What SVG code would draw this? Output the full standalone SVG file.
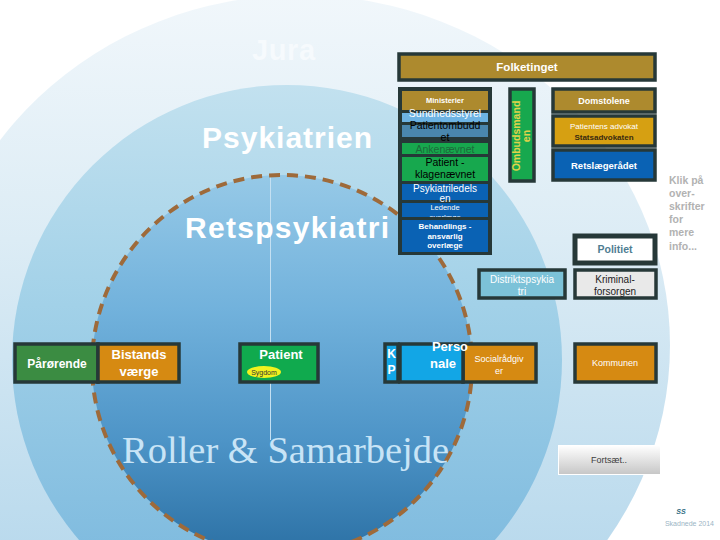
<svg xmlns="http://www.w3.org/2000/svg" width="720" height="540" viewBox="0 0 720 540">
<defs>
<linearGradient id="gOuter" x1="0" y1="0" x2="0" y2="1">
<stop offset="0" stop-color="#f1f7fb"/><stop offset="0.35" stop-color="#dcecf5"/><stop offset="1" stop-color="#a9d1e9"/>
</linearGradient>
<linearGradient id="gMid" x1="0" y1="0" x2="0" y2="1">
<stop offset="0" stop-color="#c2e1ef"/><stop offset="0.4" stop-color="#a2d1e8"/><stop offset="1" stop-color="#74b4dc"/>
</linearGradient>
<linearGradient id="gIn" x1="0" y1="0" x2="0" y2="1">
<stop offset="0" stop-color="#96c9e7"/><stop offset="0.35" stop-color="#72b2dc"/><stop offset="0.7" stop-color="#4d94c7"/><stop offset="1" stop-color="#2b70a4"/>
</linearGradient>
<linearGradient id="gBtn" x1="0" y1="0" x2="0" y2="1">
<stop offset="0" stop-color="#ffffff"/><stop offset="1" stop-color="#c6c6c6"/>
</linearGradient>
<clipPath id="clipLed"><rect x="402" y="203" width="86" height="14"/></clipPath>
</defs>
<style>
.box{stroke:#263838;stroke-width:3.5}
.t{font-family:"Liberation Sans",Arial,sans-serif;text-anchor:middle}
.b{font-weight:bold}
.w{fill:#ffffff}
.gold{fill:#ad8a2e}
.org{fill:#d68a12}
.blu{fill:#0a62b4}
.grn{fill:#17a84e}
.big{font-family:"Liberation Sans",Arial,sans-serif;font-weight:bold;fill:#ffffff}
</style>
<rect width="720" height="540" fill="#ffffff"/>
<g id="background">
<ellipse cx="300" cy="345" rx="370" ry="350" fill="url(#gOuter)"/>
<circle cx="287" cy="360" r="275" fill="url(#gMid)"/>
<circle cx="282" cy="365" r="190" fill="url(#gIn)"/>
<line x1="270.5" y1="176" x2="270.5" y2="440" stroke="#c4e0f2" stroke-width="1"/>
<circle cx="282" cy="365" r="190" fill="none" stroke="#9e6a3a" stroke-width="4" stroke-dasharray="11 7"/>
<text x="252" y="60" class="big" font-size="29" letter-spacing="0.6" style="fill:#f6fafd">Jura</text>
<text x="202" y="148" class="big" font-size="30" letter-spacing="1">Psykiatrien</text>
<text x="185" y="238" class="big" font-size="30" letter-spacing="1.3">Retspsykiatri</text>
<text x="122" y="463" font-family="'Liberation Serif','Times New Roman',serif" font-size="38.5" fill="#c8e4f6">Roller &amp; Samarbejde</text>
</g>
<g id="connectors"/>
<g id="folketinget">
<rect x="399" y="54" width="256" height="26" class="box gold"/>
<text x="527" y="71" class="t b w" font-size="11.5">Folketinget</text>
</g>
<g id="ministerier-frame"><rect x="398" y="87" width="94" height="168" fill="#263838"/></g>
<g id="ministerier">
<rect x="402" y="91" width="86" height="19" class="gold"/>
<text x="445" y="103" class="t b w" font-size="7.5">Ministerier</text>
</g>
<g id="sundhedsstyrelsen">
<rect x="402" y="113" width="86" height="9" fill="#6db3e3"/>
<text x="445" y="117" class="t w" font-size="10.5">Sundhedsstyrel</text>
</g>
<g id="patientombuddet">
<rect x="402" y="125" width="86" height="12" fill="#4a86ad"/>
<text x="445" y="129" class="t" font-size="10.5" fill="#000">Patientombudd</text>
<text x="445" y="141" class="t" font-size="10.5" fill="#000">et</text>
</g>
<g id="ankenaevnet">
<rect x="402" y="143" width="86" height="11" class="grn"/>
<text x="445" y="152.5" class="t" font-size="10.5" fill="#1d6a3a">Ankenævnet</text>
</g>
<g id="klagenaevnet">
<rect x="402" y="157" width="86" height="24" class="grn"/>
<text x="445" y="166" class="t" font-size="10.5" fill="#000">Patient -</text>
<text x="445" y="177.5" class="t" font-size="10.5" fill="#000">klagenævnet</text>
</g>
<g id="ledende-overlaege">
<rect x="402" y="203" width="86" height="14" class="blu"/>
<g clip-path="url(#clipLed)">
<text x="445" y="210" class="t w" font-size="7.5">Ledende</text>
<text x="445" y="219.5" class="t w" font-size="7.5">overlæge</text>
</g>
</g>
<g id="psykiatriledelsen">
<rect x="402" y="184" width="86" height="16" class="blu"/>
<text x="445" y="192" class="t w" font-size="10">Psykiatriledels</text>
<text x="445" y="202" class="t w" font-size="10">en</text>
</g>
<g id="behandlingsansvarlig">
<rect x="402" y="220" width="86" height="32" class="blu"/>
<text x="445" y="229" class="t b w" font-size="8">Behandlings -</text>
<text x="445" y="238.5" class="t b w" font-size="8">ansvarlig</text>
<text x="445" y="248" class="t b w" font-size="8">overlæge</text>
</g>
<g id="ombudsmanden">
<rect x="510" y="89" width="24" height="92" class="box grn"/>
<text transform="translate(519.5 136) rotate(-90)" x="0" y="0" class="t b" font-size="10.5" fill="#e0d24a">Ombudsmand</text>
<text transform="translate(529.5 136) rotate(-90)" x="0" y="0" class="t b" font-size="10.5" fill="#e0d24a">en</text>
</g>
<g id="domstolene">
<rect x="553" y="89" width="102" height="23" class="box gold"/>
<text x="604" y="104" class="t b w" font-size="9">Domstolene</text>
</g>
<g id="statsadvokaten">
<rect x="553" y="116" width="102" height="30" class="box" fill="#d6a012"/>
<text x="604" y="129" class="t w" font-size="8">Patientens advokat</text>
<text x="604" y="140" class="t b" font-size="8" fill="#3a2a10">Statsadvokaten</text>
</g>
<g id="retslaegeraadet">
<rect x="553" y="150" width="102" height="30" class="box blu"/>
<text x="604" y="169" class="t b w" font-size="9.5">Retslægerådet</text>
</g>
<g id="politiet">
<rect x="575" y="236" width="80" height="27" fill="#ffffff" stroke="#263838" stroke-width="5"/>
<text x="615" y="253" class="t b" font-size="10.5" fill="#4f7d92">Politiet</text>
</g>
<g id="distriktspsykiatri">
<rect x="479" y="270" width="86" height="28" class="box" fill="#7cc2d8"/>
<text x="522" y="283" class="t w" font-size="10">Distriktspsykia</text>
<text x="522" y="295" class="t w" font-size="10">tri</text>
</g>
<g id="kriminalforsorgen">
<rect x="575" y="270" width="81" height="28" class="box" fill="#e9e9e9"/>
<text x="615" y="283" class="t" font-size="10" fill="#222">Kriminal-</text>
<text x="615" y="295" class="t" font-size="10" fill="#222">forsorgen</text>
</g>
<g id="paaroerende">
<rect x="15" y="344" width="83" height="38" class="box" fill="#3b8c42"/>
<text x="57" y="368" class="t b w" font-size="12">Pårørende</text>
</g>
<g id="bistandsvaerge">
<rect x="98" y="344" width="81" height="38" class="box org"/>
<text x="139" y="359" class="t b w" font-size="13">Bistands</text>
<text x="139" y="376" class="t b w" font-size="13">værge</text>
</g>
<g id="patient">
<rect x="240" y="344" width="78" height="38" class="box" fill="#10aa4e"/>
<text x="281" y="359" class="t b w" font-size="13">Patient</text>
<ellipse cx="264" cy="372" rx="17" ry="6" fill="#f2f21e"/>
<text x="264" y="375" class="t" font-size="7" fill="#333">Sygdom</text>
</g>
<g id="kp">
<rect x="385" y="344" width="13" height="38" class="box" fill="#12a6e6"/>
<text x="391.5" y="358" class="t b w" font-size="12">K</text>
<text x="391.5" y="374" class="t b w" font-size="12">P</text>
</g>
<g id="socialraadgiver">
<rect x="463" y="344" width="73" height="38" class="box org"/>
<text x="499" y="362" class="t w" font-size="9">Socialrådgiv</text>
<text x="499" y="374" class="t w" font-size="9">er</text>
</g>
<g id="personale">
<rect x="400" y="344" width="63" height="38" class="box" fill="#12a6e6"/>
<text x="450" y="351" class="t b w" font-size="13">Perso</text>
<text x="443" y="368" class="t b w" font-size="13">nale</text>
</g>
<g id="kommunen">
<rect x="575" y="344" width="81" height="38" class="box org"/>
<text x="615" y="366" class="t w" font-size="9">Kommunen</text>
</g>
<g id="fortsaet">
<rect x="558.5" y="445.5" width="102" height="29" fill="url(#gBtn)" stroke="#ffffff" stroke-width="1"/>
<text x="609" y="463" class="t" font-size="9" fill="#404040">Fortsæt..</text>
</g>
<g id="info">
<text font-family="'Liberation Sans',Arial,sans-serif" font-weight="bold" font-size="10.5" fill="#b2b2b2">
<tspan x="669" y="184">Klik på</tspan>
<tspan x="669" y="197">over-</tspan>
<tspan x="669" y="210">skrifter</tspan>
<tspan x="669" y="223">for</tspan>
<tspan x="669" y="236">mere</tspan>
<tspan x="669" y="250">info...</tspan>
</text>
</g>
<g id="footer">
<text x="681" y="514" class="t b" font-size="7" font-style="italic" fill="#2a6a80">SS</text>
<text x="714" y="526" font-family="'Liberation Sans',Arial,sans-serif" font-size="7" text-anchor="end" fill="#9bb5c5">Skadnede 2014</text>
</g>
</svg>
